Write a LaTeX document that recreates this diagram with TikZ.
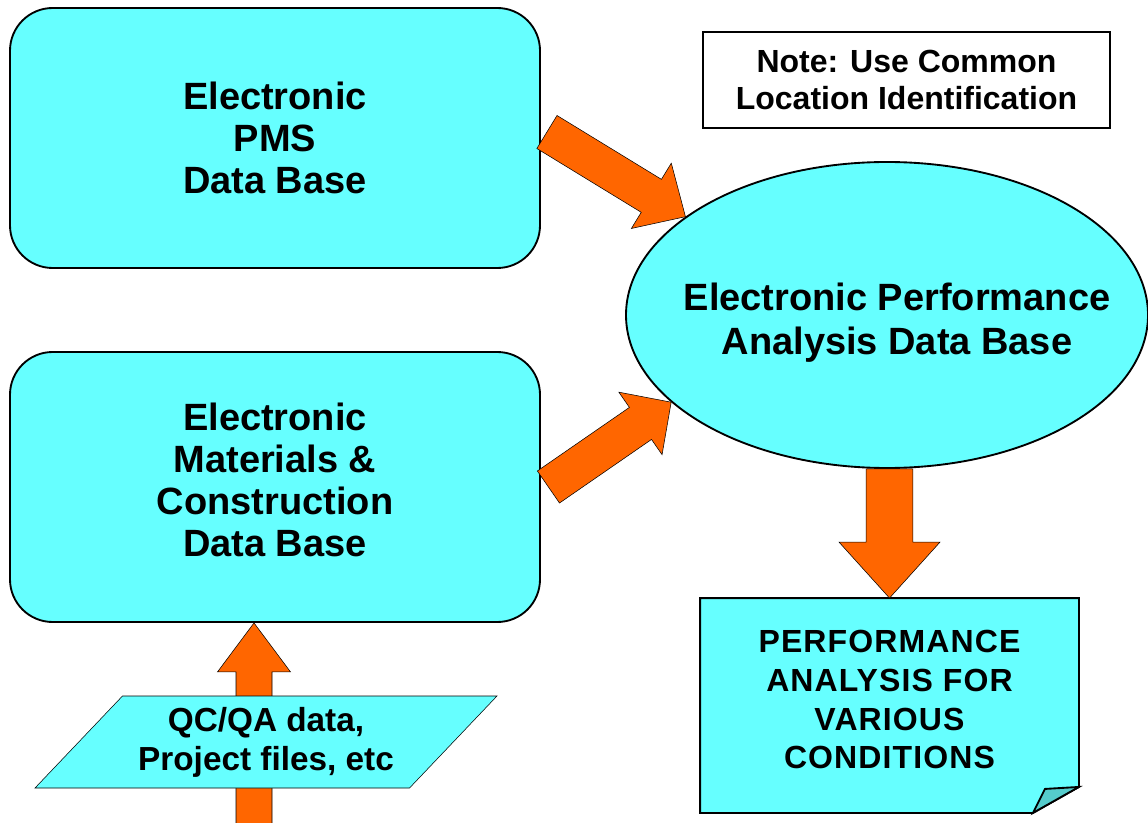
\documentclass[tikz,border=0pt]{standalone}
\usepackage{fontspec}
\setmainfont{Liberation Sans}
\usetikzlibrary{calc,shapes.geometric,backgrounds}

\definecolor{boxcyan}{HTML}{66FFFF}
\definecolor{arroworange}{HTML}{FF6600}
\definecolor{foldcyan}{HTML}{55CCCC}

\tikzset{every picture/.style={line width=1.4pt}}
\tikzset{
  dbbox/.style={draw, fill=boxcyan, rounded corners=32pt, minimum width=397.5pt,
    align=center, font=\fontsize{28.5}{31.5}\selectfont\bfseries},
  fatarrow/.style={draw, fill=arroworange, line join=miter},
  smalltext/.style={align=center, font=\fontsize{24}{28}\selectfont\bfseries}
}

% block arrow: tail, tip, head length, half shaft, half head
\newcommand{\fatarrow}[5]{%
  \coordinate (fa-head) at ($(#2)!#3!(#1)$);
  \filldraw[fatarrow] ($(#1)!#4!90:(#2)$) -- ($(fa-head)!#4!90:(#2)$)
    -- ($(fa-head)!#5!90:(#2)$) -- (#2) -- ($(fa-head)!#5!-90:(#2)$)
    -- ($(fa-head)!#4!-90:(#2)$) -- ($(#1)!#4!-90:(#2)$) -- cycle;
}

\begin{document}
\begin{tikzpicture}[x=0.75pt,y=0.75pt,yscale=-1,xscale=1]
	\useasboundingbox (0,0) rectangle (1148,823);

	% Data base boxes
	\node[dbbox, minimum height=195pt] (pms) at (275,138) {Electronic\\PMS\\Data Base};
	\node[dbbox, minimum height=202.5pt, text depth=10.5pt] (mat) at (275,487) {Electronic\\Materials \&\\Construction\\Data Base};

	% Analysis data base
	\node[ellipse, draw, fill=boxcyan, minimum width=391.5pt, minimum height=229.5pt, inner sep=0pt,
	  label={[align=center, font=\fontsize{28.5}{33}\selectfont\bfseries, xshift=7.5pt, yshift=-6pt]center:Electronic Performance\\Analysis Data Base}]
	  (epa) at (887,315) {};

	% Note
	\node[draw, fill=white, minimum width=305.25pt, minimum height=72pt, smalltext] (note) at (906.5,80)
	  {Note: Use Common\\Location Identification};

	% Performance analysis sheet
	\node[minimum width=282.75pt, minimum height=159.75pt, align=center, text depth=9pt,
	  font=\fontsize{24}{29}\selectfont\bfseries\addfontfeature{LetterSpace=3.5}] (perf) at (889.5,705.5)
	  {PERFORMANCE\\ANALYSIS FOR\\VARIOUS\\CONDITIONS};
	\begin{pgfonlayer}{background}
	  \filldraw[fill=boxcyan, line width=1.4pt] (perf.north west) -- (perf.north east) -- ($(perf.south east)+(0,-26)$)
	    -- ($(perf.south east)+(-46,0)$) -- (perf.south west) -- cycle;
	  \filldraw[fill=foldcyan, line width=1.4pt] ($(perf.south east)+(-46,0)$) -- ($(perf.south east)+(-34,-24)$)
	    -- ($(perf.south east)+(0,-26)$) -- cycle;
	\end{pgfonlayer}

	% Arrows
	\coordinate (pmsout) at ($(pms.east)+(6,-6)$);
	\coordinate (matout) at ($(mat.east)+(7.5,0)$);
	\coordinate (qcbase) at (254,826);
	\fatarrow{pmsout}{epa.154}{30pt}{14.5pt}{28.7pt}
	\fatarrow{matout}{epa.202}{28pt}{14.6pt}{28.5pt}
	\fatarrow{perf.north |- epa.south}{perf.north}{42pt}{17.6pt}{37.9pt}
	\fatarrow{qcbase}{mat.south -| qcbase}{36.75pt}{13.5pt}{27.4pt}

	% Input data
	\node[trapezium, trapezium left angle=38.7, trapezium right angle=141.3, trapezium stretches body,
	  draw, fill=boxcyan, minimum width=346.5pt, minimum height=69pt, inner sep=0pt, align=center,
	  font=\fontsize{25}{29.25}\selectfont\bfseries] (qc) at (266,742)
	  {QC/QA data,\\Project files, etc};

\end{tikzpicture}
\end{document}
